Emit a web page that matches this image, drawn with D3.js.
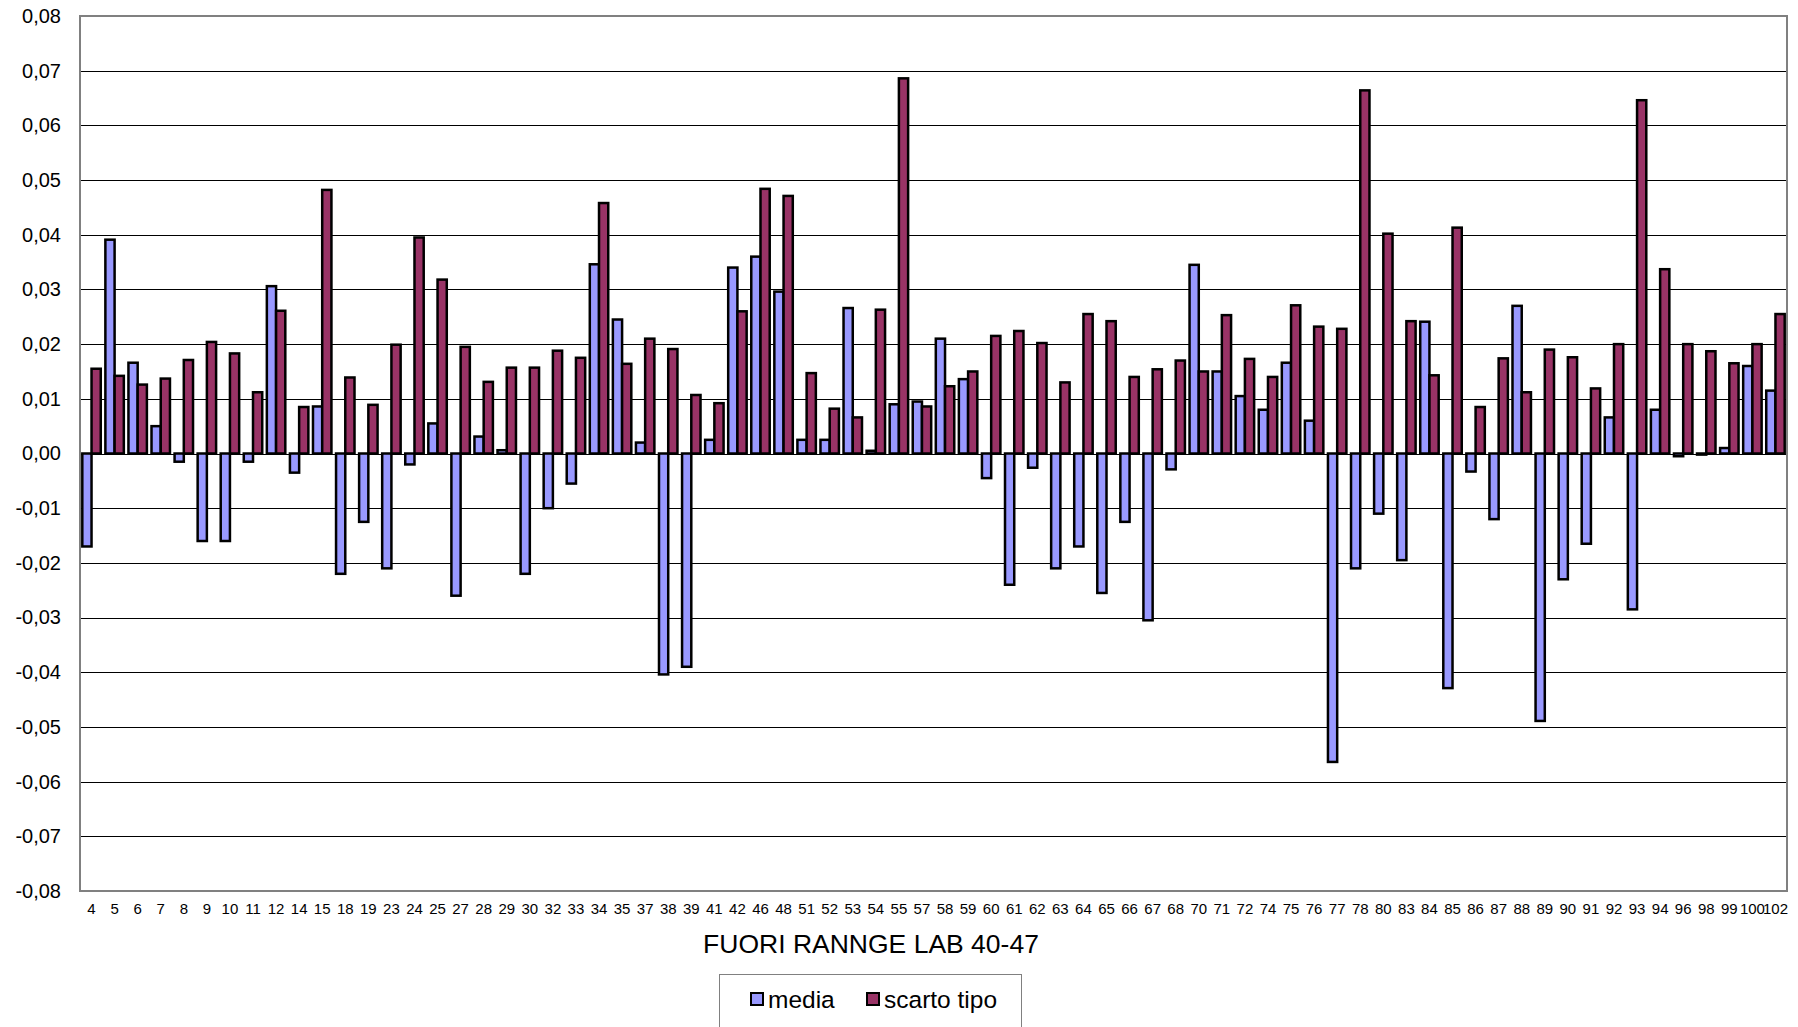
<!DOCTYPE html>
<html>
<head>
<meta charset="utf-8">
<script src="https://cdn.jsdelivr.net/npm/d3@7"></script>
<style>
  body { margin: 0; background: #fff; }
  text { font-family: "Liberation Sans", Arial, sans-serif; fill: #000; }
</style>
</head>
<body>
<div id="chart"></div>
<script>
var categories = ["4","5","6","7","8","9","10","11","12","14","15","18","19","23","24","25","27","28","29","30",
  "32","33","34","35","37","38","39","41","42","46","48","51","52","53","54","55","57","58","59","60",
  "61","62","63","64","65","66","67","68","70","71","72","74","75","76","77","78","80","83","84","85",
  "86","87","88","89","90","91","92","93","94","96","98","99","100","102"];

var media = [-0.017,0.0391,0.0166,0.005,-0.0015,-0.016,-0.016,-0.0015,0.0306,-0.0035,0.0086,-0.022,-0.0125,-0.021,-0.002,0.0055,-0.026,0.0031,0.0006,-0.022,
  -0.01,-0.0055,0.0346,0.0245,0.002,-0.0404,-0.039,0.0025,0.034,0.036,0.0296,0.0025,0.0025,0.0266,0.0005,0.009,0.0095,0.021,0.0136,-0.0045,
  -0.024,-0.0026,-0.021,-0.017,-0.0255,-0.0125,-0.0305,-0.0029,0.0345,0.015,0.0105,0.008,0.0166,0.006,-0.0564,-0.021,-0.011,-0.0195,0.0241,-0.0429,
  -0.0033,-0.012,0.027,-0.0489,-0.023,-0.0165,0.0066,-0.0285,0.008,-0.0005,-0.0002,0.001,0.016,0.0115];

var scartoTipo = [0.0155,0.0142,0.0126,0.0137,0.0171,0.0204,0.0183,0.0112,0.0261,0.0085,0.0482,0.0139,0.0089,0.0199,0.0395,0.0318,0.0195,0.0131,0.0157,0.0157,
  0.0188,0.0175,0.0458,0.0164,0.021,0.0191,0.0107,0.0092,0.026,0.0484,0.0471,0.0147,0.0082,0.0066,0.0263,0.0686,0.0086,0.0123,0.015,0.0215,
  0.0224,0.0202,0.013,0.0255,0.0242,0.014,0.0154,0.017,0.015,0.0253,0.0173,0.014,0.0271,0.0232,0.0228,0.0664,0.0402,0.0242,0.0143,0.0413,
  0.0085,0.0174,0.0112,0.019,0.0176,0.0119,0.02,0.0646,0.0337,0.02,0.0187,0.0165,0.02,0.0255];

var seriesNames = ["media", "scarto tipo"];
var yTicks = [-0.08,-0.07,-0.06,-0.05,-0.04,-0.03,-0.02,-0.01,0,0.01,0.02,0.03,0.04,0.05,0.06,0.07,0.08];
var xTitle = "FUORI RANNGE LAB 40-47";

var colors = {"media": "#9999ff", "scarto tipo": "#993366"};

var svg = d3.select("#chart").append("svg")
              .attr("width", 1798)
              .attr("height", 1027);

var plot = {left: 80, right: 1787, top: 16, bottom: 891};

var x = d3.scaleBand().domain(categories).range([plot.left, plot.right]);
var xs = d3.scaleBand().domain(seriesNames).range([0, x.bandwidth()]).paddingOuter(0.25);
var y = d3.scaleLinear().domain([-0.08, 0.08]).range([plot.bottom, plot.top]);

function fmt(d) {
  return (d < 0 ? "-" : "") + Math.abs(d).toFixed(2).replace(".", ",");
}

// gridlines
svg.append("g")
    .selectAll("line")
    .data(yTicks.filter(function(d){ return d > -0.08 && d < 0.08; }))
    .enter().append("line")
    .attr("x1", plot.left)
    .attr("x2", plot.right)
    .attr("y1", function(d){ return Math.round(y(d)) + 0.5; })
    .attr("y2", function(d){ return Math.round(y(d)) + 0.5; })
    .attr("stroke", "#000")
    .attr("stroke-width", 1);

// plot border
svg.append("rect")
    .attr("x", plot.left)
    .attr("y", plot.top)
    .attr("width", plot.right - plot.left)
    .attr("height", plot.bottom - plot.top)
    .attr("fill", "none")
    .attr("stroke", "#808080")
    .attr("stroke-width", 2);

// y axis labels
var yAxis = svg.append("g")
    .attr("transform", "translate(" + plot.left + ",0)")
    .call(d3.axisLeft(y).tickValues(yTicks).tickFormat(fmt).tickSize(0).tickPadding(19));
yAxis.select(".domain").remove();
yAxis.selectAll("text")
    .style("font-size", "20px")
    .style("font-family", "Liberation Sans, Arial, sans-serif");

// x axis labels
var xAxis = svg.append("g")
    .attr("transform", "translate(0," + plot.bottom + ")")
    .call(d3.axisBottom(x).tickSize(0).tickPadding(12));
xAxis.select(".domain").remove();
xAxis.selectAll("text")
    .style("font-size", "15px")
    .style("font-family", "Liberation Sans, Arial, sans-serif");

// bars
var rows = categories.map(function(c, i){
  return {cat: c, values: [{name: "media", v: media[i]}, {name: "scarto tipo", v: scartoTipo[i]}]};
});

var groups = svg.append("g").selectAll("g")
    .data(rows)
    .enter().append("g")
    .attr("transform", function(d){ return "translate(" + x(d.cat) + ",0)"; });

groups.selectAll("rect")
    .data(function(d){ return d.values; })
    .enter().append("rect")
    .attr("x", function(d){ return xs(d.name); })
    .attr("width", xs.bandwidth())
    .attr("y", function(d){ return y(Math.max(0, d.v)); })
    .attr("height", function(d){ return Math.abs(y(d.v) - y(0)); })
    .attr("fill", function(d){ return colors[d.name]; })
    .attr("stroke", "#000")
    .attr("stroke-width", 2.5);

// axis title
svg.append("text")
    .attr("x", 871)
    .attr("y", 953)
    .attr("text-anchor", "middle")
    .style("font-size", "26.5px")
    .text(xTitle);

// legend
var legend = svg.append("g");
legend.append("rect")
    .attr("x", 719.5)
    .attr("y", 974.5)
    .attr("width", 302)
    .attr("height", 70)
    .attr("fill", "#fff")
    .attr("stroke", "#808080")
    .attr("stroke-width", 1);

var legendX = [751, 867];
seriesNames.forEach(function(name, i){
  legend.append("rect")
      .attr("x", legendX[i])
      .attr("y", 993)
      .attr("width", 12)
      .attr("height", 12)
      .attr("fill", colors[name])
      .attr("stroke", "#000")
      .attr("stroke-width", 2);
  legend.append("text")
      .attr("x", legendX[i] + 17)
      .attr("y", 1008)
      .style("font-size", "24.5px")
      .text(name);
});
</script>
</body>
</html>
